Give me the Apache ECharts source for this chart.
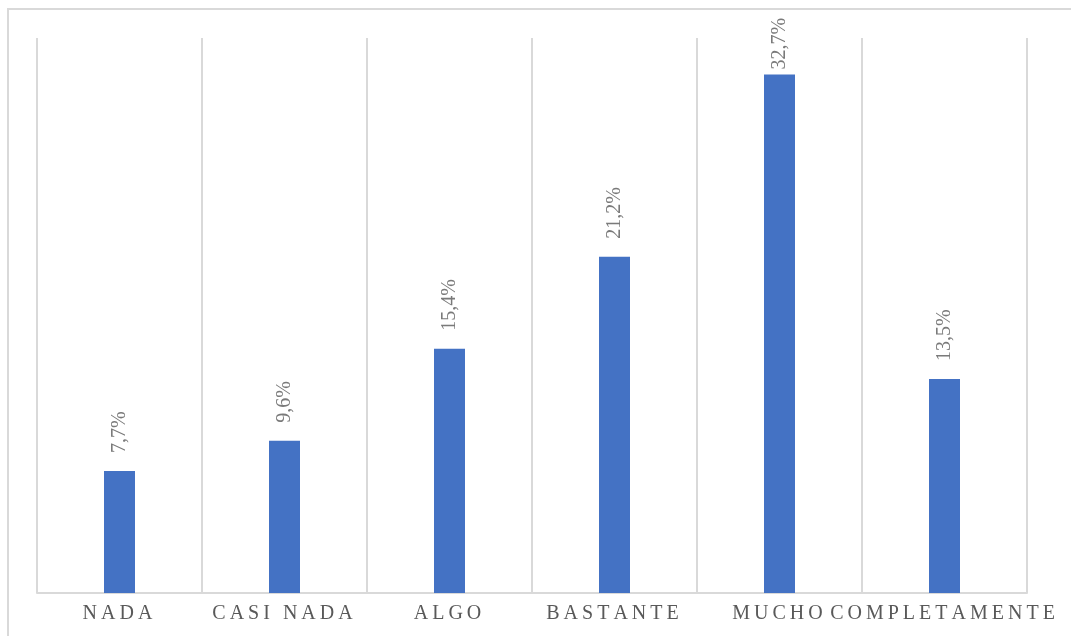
<!DOCTYPE html>
<html>
<head>
<meta charset="utf-8">
<style>
  html, body { margin: 0; padding: 0; background: #ffffff; }
  #chart { width: 1071px; height: 636px; }
</style>
<script src="https://cdn.jsdelivr.net/npm/echarts@6/dist/echarts.min.js"></script>
</head>
<body>
<div id="chart"></div>
<script>
// Response categories and their share of answers (percent)
const categories = ['NADA', 'CASI NADA', 'ALGO', 'BASTANTE', 'MUCHO', 'COMPLETAMENTE'];
const shares = [7.7, 9.6, 15.4, 21.2, 32.7, 13.5];

// Value axis range (hidden)
const axisMin = 0;
const axisMax = 35;

const THIN = '\u2009';
// Spread capitals out with thin spaces (tracked lettering)
function track(s) {
  return Array.from(s).join(THIN) + THIN;
}
// Spanish decimal comma
function pct(v) {
  return v.toFixed(1).replace('.', ',') + '%';
}

const peak = Math.max.apply(null, shares);
const seriesData = shares.map(function (v) {
  const item = { value: v };
  // The tallest label is tucked closer to its bar so it stays inside the frame
  if (v === peak) item.label = { distance: 5 };
  return item;
});

const chart = echarts.init(document.getElementById('chart'), null, { renderer: 'canvas' });
chart.setOption({
  animation: false,
  backgroundColor: '#ffffff',
  graphic: [{
    type: 'rect',
    shape: { x: 8, y: 9, width: 1100, height: 700 },
    style: { fill: 'none', stroke: '#d9d9d9', lineWidth: 2 },
    silent: true,
    z: -1
  }],
  grid: { left: 37, right: 44, top: 38, bottom: 43 },
  xAxis: {
    type: 'category',
    data: categories,
    boundaryGap: true,
    axisLine: { show: true, lineStyle: { color: '#d9d9d9', width: 2 } },
    axisTick: { show: false },
    splitLine: { show: true, interval: 0, lineStyle: { color: '#d9d9d9', width: 2 } },
    axisLabel: {
      interval: 0,
      margin: 11,
      color: '#595959',
      fontFamily: '"Liberation Serif", "Times New Roman", serif',
      fontSize: 20,
      formatter: function (v) { return track(v); }
    }
  },
  yAxis: {
    type: 'value',
    min: axisMin,
    max: axisMax,
    show: false,
    splitLine: { show: false }
  },
  series: [{
    type: 'bar',
    data: seriesData,
    barWidth: 31,
    itemStyle: { color: '#4472c4' },
    label: {
      show: true,
      position: 'top',
      rotate: 90,
      align: 'left',
      verticalAlign: 'middle',
      distance: 18,
      color: '#7a7a7a',
      fontFamily: '"Liberation Serif", "Times New Roman", serif',
      fontSize: 20,
      formatter: function (p) { return pct(p.value); }
    }
  }]
});
</script>
</body>
</html>
